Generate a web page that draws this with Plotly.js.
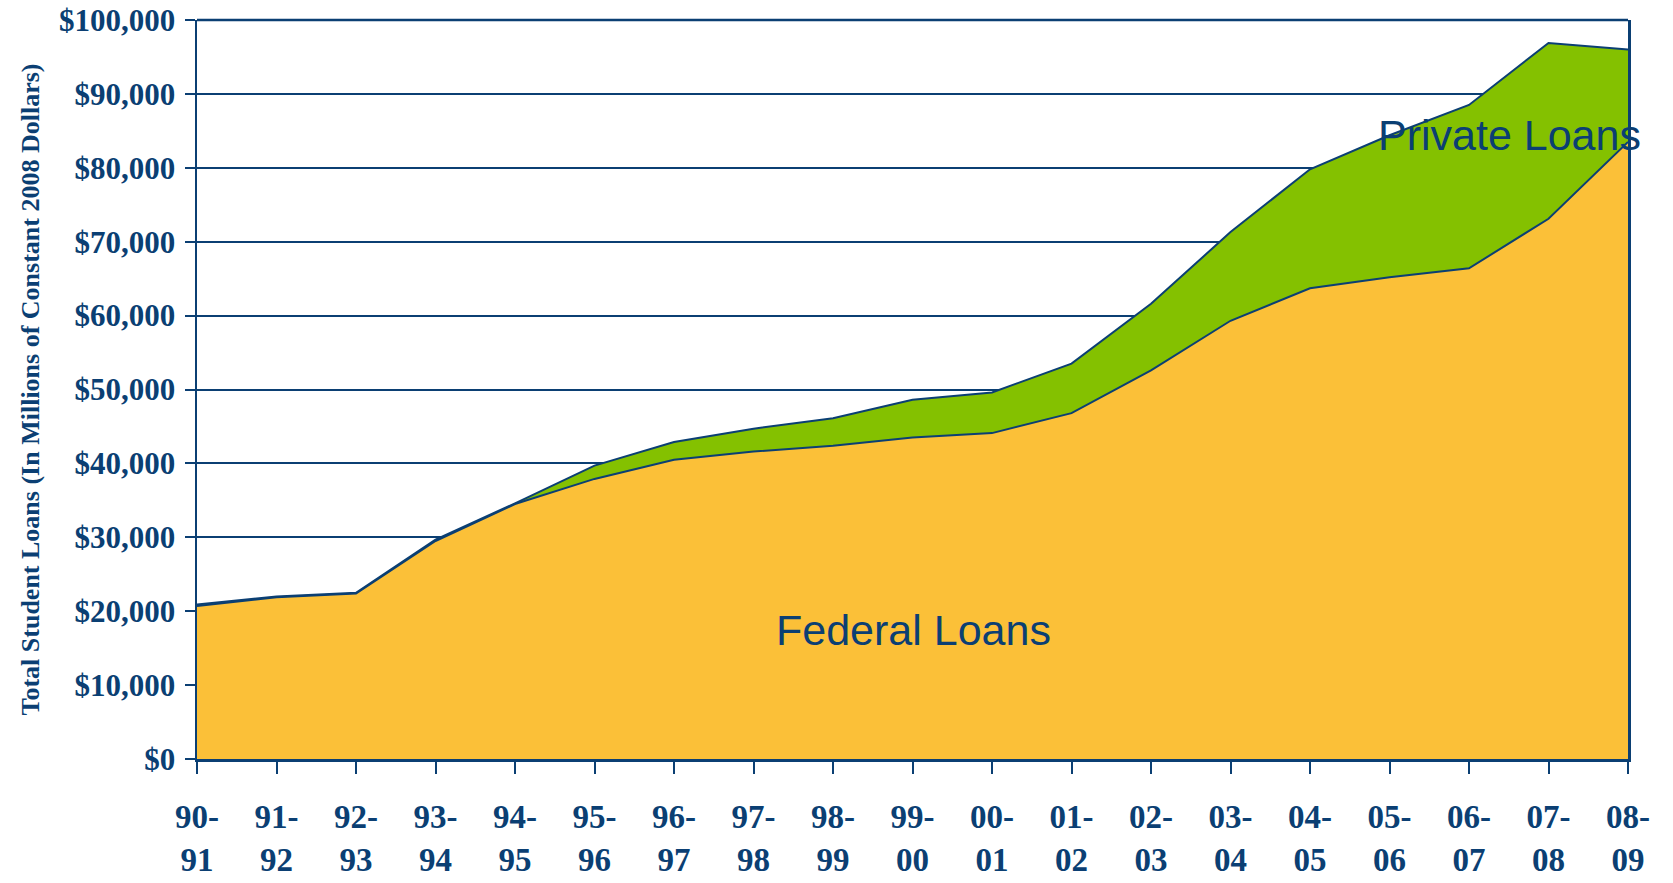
<!DOCTYPE html>
<html>
<head>
<meta charset="utf-8">
<script src="https://cdn.plot.ly/plotly-3.0.1.min.js"></script>
<style>
  html, body { margin: 0; padding: 0; background: #ffffff; }
  #chart { width: 1673px; height: 883px; }
</style>
</head>
<body>
<div id="chart"></div>
<script>
// Academic years (categories)
const years = ["90-<br>91","91-<br>92","92-<br>93","93-<br>94","94-<br>95","95-<br>96","96-<br>97",
               "97-<br>98","98-<br>99","99-<br>00","00-<br>01","01-<br>02","02-<br>03","03-<br>04",
               "04-<br>05","05-<br>06","06-<br>07","07-<br>08","08-<br>09"];

// Federal loans (millions of constant 2008 dollars)
const federalLoans = [20700, 21900, 22400, 29500, 34500, 37900, 40500, 41600, 42400, 43500,
                      44100, 46800, 52600, 59300, 63700, 65200, 66400, 73100, 83500];

// Total student loans (federal + private)
const totalLoans = [20900, 22000, 22500, 29700, 34600, 39700, 42900, 44700, 46100, 48600,
                    49600, 53500, 61600, 71300, 79800, 84400, 88500, 96900, 96000];

// Private loans = total - federal
const privateLoans = totalLoans.map((t, i) => t - federalLoans[i]);

// Y tick values and labels
const yTickVals = [0, 10000, 20000, 30000, 40000, 50000, 60000, 70000, 80000, 90000, 100000];
const yTickText = ["$0","$10,000","$20,000","$30,000","$40,000","$50,000","$60,000","$70,000","$80,000","$90,000","$100,000"];

const NAVY = "#0b3f73";
const YELLOW = "#fbc038";
const GREEN = "#84c100";

const traces = [
  {
    type: "scatter", mode: "lines", name: "Federal Loans",
    x: years, y: federalLoans, stackgroup: "loans",
    line: { color: NAVY, width: 2 }, fillcolor: YELLOW,
    hoverinfo: "x+y"
  },
  {
    type: "scatter", mode: "lines", name: "Private Loans",
    x: years, y: privateLoans, stackgroup: "loans",
    line: { color: NAVY, width: 2 }, fillcolor: GREEN,
    hoverinfo: "x+y"
  }
];

const layout = {
  width: 1673, height: 883,
  margin: { l: 197, r: 45, t: 20, b: 124 },
  paper_bgcolor: "#ffffff", plot_bgcolor: "#ffffff",
  showlegend: false,
  xaxis: {
    type: "category",
    range: [0, years.length - 1],
    tickmode: "linear", tick0: 0, dtick: 1,
    showgrid: false, zeroline: false,
    showline: true, linecolor: NAVY, linewidth: 2.5,
    ticks: "outside", ticklen: 12, tickwidth: 2, tickcolor: NAVY,
    tickfont: { family: "Liberation Serif, Times New Roman, serif", size: 33, color: NAVY, weight: "bold" },
    ticklabelstandoff: 15,
    tickangle: 0
  },
  yaxis: {
    range: [0, 100000],
    tickmode: "array", tickvals: yTickVals, ticktext: yTickText,
    showgrid: true, gridcolor: NAVY, gridwidth: 2,
    zeroline: false,
    showline: true, linecolor: NAVY, linewidth: 2.5, mirror: true,
    ticks: "outside", ticklen: 10, tickwidth: 2, tickcolor: NAVY,
    tickfont: { family: "Liberation Serif, Times New Roman, serif", size: 31, color: NAVY, weight: "bold" },
    ticklabelstandoff: 3,
    title: {
      text: "Total Student Loans (In Millions of Constant 2008 Dollars)",
      font: { family: "Liberation Serif, Times New Roman, serif", size: 26, color: NAVY, weight: "bold" },
      standoff: 12
    }
  },
  shapes: [
    { type: "line", xref: "paper", yref: "paper", x0: 0, x1: 1, y0: 1, y1: 1,
      line: { color: NAVY, width: 2.5 } }
  ],
  annotations: [
    { text: "Federal Loans", xref: "paper", yref: "paper", x: 0.501, y: 0.174,
      xanchor: "center", yanchor: "middle", showarrow: false,
      font: { family: "Liberation Sans, Arial, sans-serif", size: 43, color: NAVY } },
    { text: "Private Loans", xref: "paper", yref: "paper", x: 0.917, y: 0.844,
      xanchor: "center", yanchor: "middle", showarrow: false,
      font: { family: "Liberation Sans, Arial, sans-serif", size: 43, color: NAVY } }
  ]
};

Plotly.newPlot("chart", traces, layout, { displayModeBar: false, staticPlot: true });
</script>
</body>
</html>
